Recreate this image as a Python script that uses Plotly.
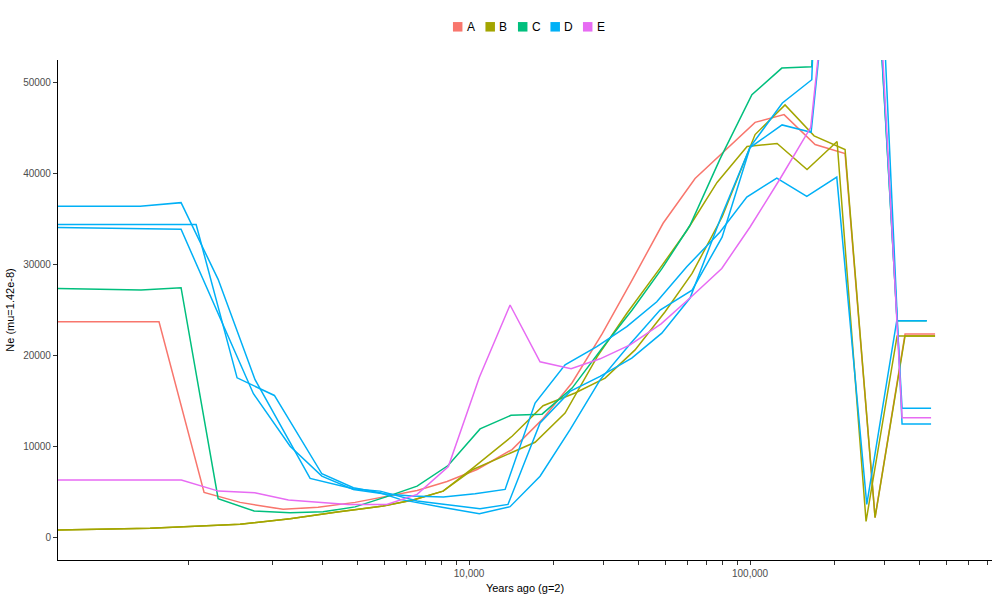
import plotly.graph_objects as go

# ---------------- data (years ago, Ne) ----------------
A1_years = [300, 788, 1140, 1531, 2178, 2901, 3929, 6531, 8349, 10680, 14220, 18180, 23260, 29740,
            38030, 49030, 63720, 81470, 104200, 132100, 170400, 217800, 278500, 356100, 455400]
A1_ne = [23700, 23700, 4934, 3838, 3070, 3290, 3838, 5154, 6140, 7456, 9648, 12940, 17000, 22370,
         28290, 34540, 39470, 42540, 45640, 46490, 43200, 42220, 2193, 22370, 22370]

B1_years = [300, 732, 1531, 2307, 3390, 4943, 6319, 8080, 10330, 14220, 18340, 23840, 30480, 38970,
            49840, 62180, 79510, 104200, 133200, 169000, 217800, 278500, 356100, 455400]
B1_ne = [780, 987, 1425, 2050, 2774, 3432, 4090, 5077, 7643, 11110, 14470, 15870, 17510, 20610,
         24810, 29020, 35230, 44300, 47560, 44160, 42660, 2160, 22150, 22150]

B2_years = [300, 732, 1531, 2307, 3390, 4943, 6319, 8080, 10330, 14220, 17175, 21960, 28550, 36500,
            47830, 59660, 76300, 97560, 124800, 159500, 204000, 258700, 333600, 455400]
B2_ne = [780, 987, 1425, 2050, 2774, 3432, 4090, 5077, 7456, 9287, 10450, 13670, 19850, 24670,
         29600, 33770, 39030, 42980, 43310, 40460, 43530, 1754, 22150, 22150]

C1_years = [300, 680, 944, 1279, 1718, 2307, 3022, 3929, 5065, 6531, 8420, 10942, 14100, 18180,
            23260, 29740, 38030, 48620, 61150, 78200, 101500, 129700, 165800, 212500, 258700,
            333600, 425500]
C1_ne = [27400, 27190, 27450, 4244, 2884, 2708, 2796, 3344, 4441, 5625, 7895, 11920, 13410, 13540,
         16410, 20800, 25000, 29570, 34320, 41630, 48680, 51610, 51750, 120000, 83000,
         23830, 23830]

D1_years = [300, 675, 944, 1279, 1731, 2718, 3865, 4824, 6531, 8558, 10942, 13760, 17890, 22880,
            29260, 37930, 48510, 61150, 79300, 100000, 130300, 165800, 212500, 267300, 347500, 440700]
D1_ne = [36400, 36400, 36810, 28370, 17330, 6469, 5340, 5077, 3980, 3509, 3147, 3618, 12580, 16040,
         17690, 19700, 22450, 26320, 35420, 42910, 47770, 50330, 140000, 90000, 12470, 12470]

D2_years = [300, 1068, 1494, 2028, 2992, 3875, 4824, 5680, 8014, 10880, 13990, 17890, 22880, 29260,
            37410, 47830, 62180, 79510, 100000, 130000, 164900, 212500, 267300, 347500, 440700]
D2_ne = [34400, 34400, 17540, 15600, 6985, 5450, 4900, 4167, 3300, 2599, 3366, 6722, 11840, 17320,
         21270, 25000, 27190, 33010, 42870, 45360, 44550, 78000, 76000, 14200, 14200]

D3_years = [300, 944, 1708, 2307, 2992, 3875, 4953, 6253, 8100, 10500, 13433, 17175, 21960, 28480,
            36410, 46560, 59520, 78200, 97350, 124500, 159200, 203500, 260200, 332700, 425500]
D3_ne = [34100, 33880, 15790, 10010, 6722, 5263, 4792, 4529, 4419, 4792, 5263, 14770, 18970, 20980,
         23170, 25910, 29750, 33590, 37420, 39510, 37500, 39620, 3618, 23830, 23830]

E1_years = [300, 946, 1282, 1727, 2275, 3710, 5095, 6531, 8439, 10880, 13990, 17890, 23070, 29260,
            37410, 48240, 61660, 79300, 100000, 127900, 164400, 212500, 267300, 347500, 440700]
E1_ne = [6300, 6300, 5077, 4901, 4090, 3618, 3618, 4715, 7785, 17600, 25550, 19300, 18530, 19630,
         21160, 23470, 26430, 29570, 34130, 39440, 45100, 77700, 79000, 13160, 13160]

groups = ["A", "B", "C", "D", "E"]
colors = {"A": "#F8766D", "B": "#A3A500", "C": "#00BF7D", "D": "#00B0F6", "E": "#E76BF3"}
lines = [
    ("A", A1_years, A1_ne),
    ("B", B1_years, B1_ne),
    ("B", B2_years, B2_ne),
    ("C", C1_years, C1_ne),
    ("D", D1_years, D1_ne),
    ("D", D2_years, D2_ne),
    ("D", D3_years, D3_ne),
    ("E", E1_years, E1_ne),
]

x_tickvals = [1000 * k for k in range(1, 10)] + [10000 * k for k in range(1, 10)] + [100000 * k for k in range(1, 8)]
x_ticktext = ["10,000" if v == 10000 else "100,000" if v == 100000 else "" for v in x_tickvals]
y_tickvals = [0, 10000, 20000, 30000, 40000, 50000]
y_ticktext = [str(v) for v in y_tickvals]

FONT = "Liberation Sans, Arial, Helvetica, sans-serif"

# plot-area geometry (pixels) used to place the compact ggplot-style legend
W, H = 1000, 600
ML, MR, MT, MB = 58, 8, 60, 40
PW, PH = W - ML - MR, H - MT - MB


def px_to_paper_x(px):
    return (px - ML) / PW


def py_to_paper_y(py):
    return (H - MB - py) / PH


fig = go.Figure()
for g, xs, ys in lines:
    fig.add_trace(go.Scatter(x=xs, y=ys, mode="lines", legendgroup=g, showlegend=False, name=g,
                             line=dict(color=colors[g], width=1.5), hoverinfo="skip"))

# legend: coloured key squares + labels, centred above the panel
key_size = 9.5
key_step = 32.5
legend_first_center = 457.7
legend_center_y = 26.8
shapes, annotations = [], []
for i, g in enumerate(groups):
    cx = legend_first_center + i * key_step
    shapes.append(dict(type="rect", xref="paper", yref="paper",
                       x0=px_to_paper_x(cx - key_size / 2), x1=px_to_paper_x(cx + key_size / 2),
                       y0=py_to_paper_y(legend_center_y + key_size / 2),
                       y1=py_to_paper_y(legend_center_y - key_size / 2),
                       fillcolor=colors[g], line=dict(width=0)))
    annotations.append(dict(text=g, xref="paper", yref="paper", showarrow=False,
                            x=px_to_paper_x(cx + key_size / 2 + 2.5), xanchor="left",
                            y=py_to_paper_y(legend_center_y), yanchor="middle",
                            font=dict(size=12, color="black", family=FONT)))

fig.update_layout(
    width=W, height=H,
    margin=dict(l=ML, r=MR, t=MT, b=MB),
    plot_bgcolor="white", paper_bgcolor="white",
    font=dict(family=FONT, size=11, color="black"),
    showlegend=False,
    shapes=shapes, annotations=annotations,
    xaxis=dict(type="log", range=[2.537, 5.861], showgrid=False, zeroline=False,
               showline=True, linecolor="black", linewidth=1.1,
               ticks="outside", ticklen=4, tickcolor="#333333", tickwidth=1,
               tickvals=x_tickvals, ticktext=x_ticktext,
               tickfont=dict(size=10, color="#4D4D4D"),
               title=dict(text="Years ago (g=2)", font=dict(size=11), standoff=6)),
    yaxis=dict(range=[-2500, 52500], showgrid=False, zeroline=False,
               showline=True, linecolor="black", linewidth=1.1,
               ticks="outside", ticklen=4, tickcolor="#333333", tickwidth=1,
               tickvals=y_tickvals, ticktext=y_ticktext,
               tickfont=dict(size=10, color="#4D4D4D"),
               title=dict(text="Ne (mu=1.42e-8)", font=dict(size=11), standoff=6)),
)

fig.write_html("out.html")
